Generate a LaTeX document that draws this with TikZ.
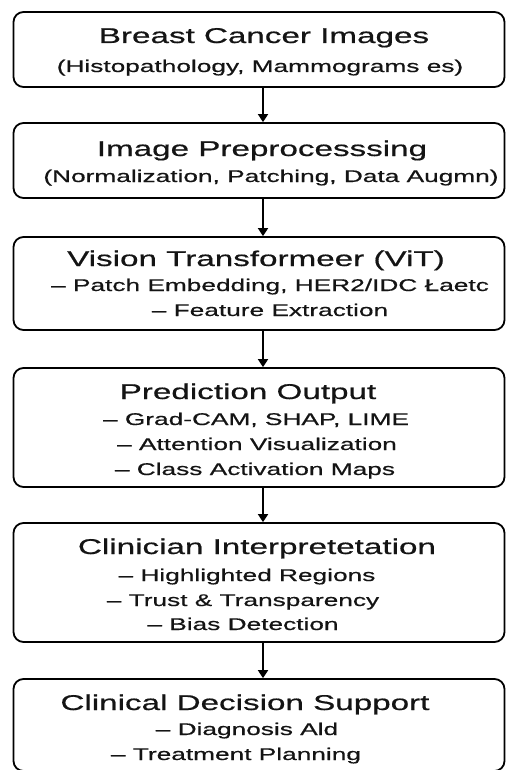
\documentclass[tikz,border=0pt]{standalone}
\usepackage{fontspec}
\setmainfont{Liberation Sans}[FakeStretch=1.55,FakeBold=0.6]
\usetikzlibrary{arrows.meta}
\begin{document}
\begin{tikzpicture}[x=1bp,y=-1bp,
  stage/.style={draw=black, line width=1.8bp, rounded corners=10bp, minimum width=491bp, inner sep=0pt},
  ttl/.style={anchor=base, inner sep=0pt, text=black!92, font=\fontsize{21.5}{25}\selectfont},
  itm/.style={anchor=base, inner sep=0pt, text=black!92, font=\fontsize{17}{20}\selectfont},
  flow/.style={draw=black, line width=1.8bp, -{Triangle[length=8bp,width=10bp]}}]
\useasboundingbox (0,0) rectangle (506,770);
% boxes
\node[stage, minimum height=75bp]  (b1) at (259,49.5) {};
\node[stage, minimum height=75bp]  (b2) at (259,160.5) {};
\node[stage, minimum height=93bp]  (b3) at (259,283.5) {};
\node[stage, minimum height=119bp] (b4) at (259,427.5) {};
\node[stage, minimum height=119bp] (b5) at (259,582.5) {};
\node[stage, minimum height=92bp]  (b6) at (259,725) {};
% texts
\node[ttl] (t1) at (264,43) {Breast Cancer Images};
\node[itm] (t1a) at (260,72) {(Histopathology, Mammograms es)};
\node[ttl] (t2) at (262,156) {Image Preprocesssing};
\node[itm] (t2a) at (271,182) {(Normalization, Patching, Data Augmn)};
\node[ttl] (t3) at (256,266) {Vision Transformeer (ViT)};
\node[itm] (t3a) at (270,291) {– Patch Embedding, HER2/IDC Łaetc};
\node[itm] (t3b) at (270,316) {– Feature Extraction};
\node[ttl] (t4) at (248,399) {Prediction Output};
\node[itm] (t4a) at (256,425) {– Grad-CAM, SHAP, LIME};
\node[itm] (t4b) at (257,450) {– Attention Visualization};
\node[itm] (t4c) at (255,475) {– Class Activation Maps};
\node[ttl] (t5) at (257,554) {Clinician Interpretetation};
\node[itm] (t5a) at (247,581) {– Highlighted Regions};
\node[itm] (t5b) at (243,606) {– Trust \& Transparency};
\node[itm] (t5c) at (243,630) {– Bias Detection};
\node[ttl] (t6) at (245,710) {Clinical Decision Support};
\node[itm] (t6a) at (247,735) {– Diagnosis Ald};
\node[itm] (t6b) at (236,760) {– Treatment Planning};
% arrows
\draw[flow] ([xshift=4bp]b1.south) -- ([xshift=4bp]b2.north);
\draw[flow] ([xshift=4bp]b2.south) -- ([xshift=4bp]b3.north);
\draw[flow] ([xshift=4bp]b3.south) -- ([xshift=4bp]b4.north);
\draw[flow] ([xshift=4bp]b4.south) -- ([xshift=4bp]b5.north);
\draw[flow] ([xshift=4bp]b5.south) -- ([xshift=4bp]b6.north);
\end{tikzpicture}
\end{document}
